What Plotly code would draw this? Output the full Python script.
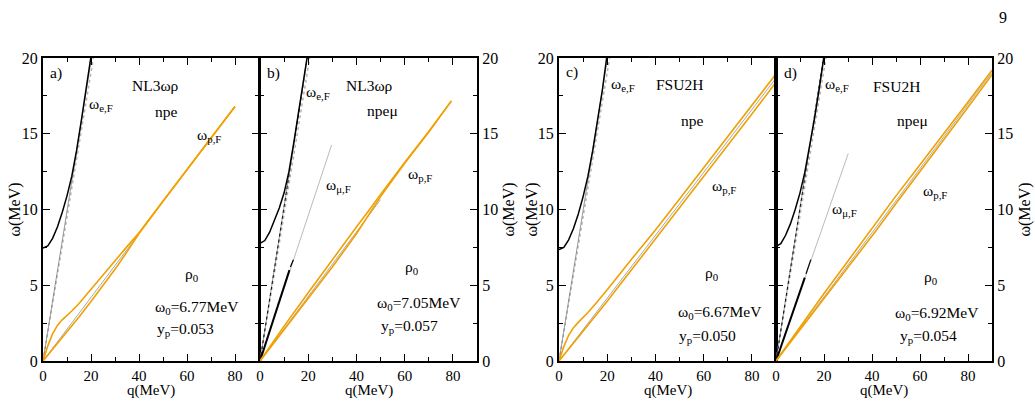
import plotly.graph_objects as go

# ---------------- data ----------------
# panel a) NL3wr npe
qa_e = [0, 2, 4, 6, 8, 10, 12, 14, 16, 18, 19.9]
wa_e = [7.46, 7.6, 8.1, 8.85, 9.8, 10.9, 12.2, 13.9, 15.9, 17.95, 20.0]
qa_eF1 = [0, 20.2]; wa_eF1 = [0, 20]
qa_eF2 = [0, 21.0]; wa_eF2 = [0, 20]
qa_pF = [0, 40]; wa_pF = [0, 8.4]
qa_up = [0, 2, 4, 6, 8, 10, 12, 15, 20, 25, 30, 35, 40, 50, 60, 70, 80]
wa_up = [0, 1.0, 1.8, 2.35, 2.72, 3.0, 3.3, 3.8, 4.75, 5.7, 6.62, 7.55, 8.47, 10.55, 12.65, 14.72, 16.8]
qa_lo = [0, 5, 10, 15, 20, 25, 30, 35, 40, 50, 60, 70, 80]
wa_lo = [0, 0.95, 1.9, 2.9, 3.92, 4.97, 6.05, 7.2, 8.42, 10.55, 12.65, 14.72, 16.8]

# panel b) NL3wr npemu
qb_e = [0, 2, 4, 6, 8, 10, 12, 14, 16, 18, 19.5]
wb_e = [7.76, 7.95, 8.5, 9.25, 10.1, 11.1, 12.5, 14.4, 16.4, 18.45, 20.0]
qb_eF1 = [0, 19.6]; wb_eF1 = [0, 20]
qb_eF2 = [0, 20.6]; wb_eF2 = [0, 20]
qb_mF = [0, 29.7]; wb_mF = [0, 14.26]
qb_m1 = [0, 12.2]; wb_m1 = [0, 6.0]
qb_m2 = [12.6, 13.85]; wb_m2 = [6.2, 6.69]
qb_pF = [0, 50]; wb_pF = [0, 10.65]
qb_up = [0, 10, 20, 30, 40, 45, 50, 60, 70, 79.4]
wb_up = [0, 2.3, 4.5, 6.7, 8.85, 9.9, 11.0, 13.1, 15.15, 17.17]
qb_lo = [0, 10, 20, 30, 40, 45, 50, 60, 70, 79.4]
wb_lo = [0, 2.05, 4.1, 6.2, 8.4, 9.6, 10.85, 13.05, 15.12, 17.17]

# panel c) FSU2H npe
qc_e = [0, 2, 4, 6, 8, 10, 12, 14, 16, 18, 19.75]
wc_e = [7.35, 7.5, 8.0, 8.75, 9.7, 10.85, 12.2, 13.9, 15.9, 17.9, 20.0]
qc_eF1 = [0, 20.1]; wc_eF1 = [0, 20]
qc_eF2 = [0, 21.0]; wc_eF2 = [0, 20]
qc_pF = [0, 90]; wc_pF = [0, 18.67]
qc_up = [0, 2, 4, 6, 8, 10, 12, 15, 20, 30, 40, 50, 60, 70, 80, 90]
wc_up = [0, 0.95, 1.7, 2.2, 2.55, 2.85, 3.2, 3.75, 4.7, 6.7, 8.65, 10.7, 12.75, 14.8, 16.85, 18.94]
qc_lo = [0, 10, 20, 30, 40, 50, 60, 70, 80, 90]
wc_lo = [0, 1.95, 3.95, 6.0, 8.05, 10.1, 12.15, 14.2, 16.3, 18.4]

# panel d) FSU2H npemu
qd_e = [0, 2, 4, 6, 8, 10, 12, 14, 16, 18, 19.9]
wd_e = [7.57, 7.75, 8.3, 9.05, 10.0, 11.1, 12.45, 14.1, 15.95, 17.95, 20.0]
qd_eF1 = [0, 19.8]; wd_eF1 = [0, 20]
qd_eF2 = [0, 20.8]; wd_eF2 = [0, 20]
qd_mF = [0, 30.1]; wd_mF = [0, 13.7]
qd_m1 = [0, 12.0]; wd_m1 = [0, 5.5]
qd_m2 = [12.5, 14.5]; wd_m2 = [5.75, 6.69]
qd_pF = [0, 90]; wd_pF = [0, 19.05]
qd_up = [0, 10, 20, 30, 41.5, 50, 60, 70, 80, 90]
wd_up = [0, 2.25, 4.45, 6.6, 9.12, 10.9, 12.95, 15.0, 17.1, 19.2]
qd_lo = [0, 10, 20, 30, 41.5, 50, 60, 70, 80, 90]
wd_lo = [0, 2.05, 4.1, 6.2, 8.56, 10.4, 12.5, 14.6, 16.75, 18.9]

x_ticks = [0, 20, 40, 60, 80]
y_ticks = [0, 5, 10, 15, 20]

panel_tags = ["a)", "b)", "c)", "d)"]
models = ["NL3ωρ", "NL3ωρ", "FSU2H", "FSU2H"]
matters = ["npe", "npeμ", "npe", "npeμ"]
omega0 = ["6.77", "7.05", "6.67", "6.92"]
yp = ["0.053", "0.057", "0.050", "0.054"]

# ---------------- styles ----------------
FONT = "Liberation Serif, Times New Roman, serif"
BLACK = "black"
ORANGE = "#f0a000"
GRAY = "#a8a8a8"
LGRAY = "#b4b4b4"
DGRAY = "#707070"

fig = go.Figure()

def line(ax, q, w, color, width, dash="solid"):
    fig.add_trace(go.Scatter(x=q, y=w, mode="lines", xaxis="x" + ax, yaxis="y" + ax,
                             line=dict(color=color, width=width, dash=dash),
                             hoverinfo="skip", showlegend=False))

panels = [
    ("", qa_e, wa_e, qa_eF1, wa_eF1, qa_eF2, wa_eF2, None, qa_pF, wa_pF, qa_up, wa_up, qa_lo, wa_lo),
    ("2", qb_e, wb_e, qb_eF1, wb_eF1, qb_eF2, wb_eF2, (qb_mF, wb_mF, qb_m1, wb_m1, qb_m2, wb_m2), qb_pF, wb_pF, qb_up, wb_up, qb_lo, wb_lo),
    ("3", qc_e, wc_e, qc_eF1, wc_eF1, qc_eF2, wc_eF2, None, qc_pF, wc_pF, qc_up, wc_up, qc_lo, wc_lo),
    ("4", qd_e, wd_e, qd_eF1, wd_eF1, qd_eF2, wd_eF2, (qd_mF, wd_mF, qd_m1, wd_m1, qd_m2, wd_m2), qd_pF, wd_pF, qd_up, wd_up, qd_lo, wd_lo),
]

for (ax, qe, we, q1, w1, q2, w2, mu, qp, wp, qu, wu, ql, wl) in panels:
    line(ax, q2, w2, LGRAY, 1.5, "dot")
    line(ax, q1, w1, DGRAY, 0.7)
    if mu is not None:
        line(ax, q1, w1, BLACK, 0.9, "dot")
        qmF, wmF, qm1, wm1, qm2, wm2 = mu
        line(ax, qmF, wmF, GRAY, 0.8)
        line(ax, qm1, wm1, BLACK, 2.0)
        line(ax, qm2, wm2, BLACK, 1.2)
    line(ax, qe, we, BLACK, 1.5)
    line(ax, qp, wp, GRAY, 1.0)
    line(ax, ql, wl, ORANGE, 1.6)
    line(ax, qu, wu, ORANGE, 1.6)

W, H = 1035, 401
xdoms = [(43, 259), (260, 477), (559, 776), (776, 992)]
ytop, ybot = 58, 361
ydom = [1 - ybot / H, 1 - ytop / H]

layout = dict(width=W, height=H, margin=dict(l=0, r=0, t=0, b=0, pad=0), autosize=False,
              plot_bgcolor="white", paper_bgcolor="white", showlegend=False,
              font=dict(family=FONT, size=15, color="black"))

for i, (x0, x1) in enumerate(xdoms):
    sfx = "" if i == 0 else str(i + 1)
    layout["xaxis" + sfx] = dict(
        domain=[x0 / W, x1 / W], anchor="y" + sfx, range=[0, 90], automargin=False,
        tickmode="array", tickvals=x_ticks, ticktext=[str(v) for v in x_ticks],
        ticks="inside", ticklen=7, tickwidth=1.2, tickcolor="black",
        showline=True, linewidth=2, linecolor="black", mirror="ticks",
        showgrid=False, zeroline=False, tickfont=dict(family=FONT, size=15),
        minor=dict(tickvals=[10, 30, 50, 70], ticks="inside", ticklen=4, tickwidth=1, tickcolor="black"),
        fixedrange=True)
    layout["yaxis" + sfx] = dict(
        domain=ydom, anchor="x" + sfx, range=[0, 20], automargin=False,
        side="left" if i in (0, 2) else "right",
        tickmode="array", tickvals=y_ticks, ticktext=[str(v) for v in y_ticks],
        ticks="inside", ticklen=7, tickwidth=1.2, tickcolor="black",
        showline=True, linewidth=2, linecolor="black", mirror="ticks",
        showgrid=False, zeroline=False, tickfont=dict(family=FONT, size=16),
        minor=dict(tickvals=[2.5, 7.5, 12.5, 17.5], ticks="inside", ticklen=4, tickwidth=1, tickcolor="black"),
        fixedrange=True)

fig.update_layout(**layout)

ann = []
def txt(ax, x, y, s, anchor="left", size=15.5):
    ann.append(dict(xref="x" + ax, yref="y" + ax, x=x, y=y, text=s, showarrow=False,
                    xanchor=anchor, yanchor="middle", font=dict(family=FONT, size=size, color="black")))

pos = [
    dict(tag=(2.0, 19.0), model=(47, 18.2), matter=(51.5, 16.5), eF=(18.3, 16.9), muF=None,
         pF=(63.3, 14.9), rho=(62, 5.7), w0=(46, 3.5), yp=(46.5, 2.05)),
    dict(tag=(2.0, 19.0), model=(45.5, 18.2), matter=(51, 16.55), eF=(18.1, 17.7), muF=(26.4, 11.6),
         pF=(60.7, 12.3), rho=(63, 6.2), w0=(47.5, 3.8), yp=(49.5, 2.3)),
    dict(tag=(2.0, 19.1), model=(50, 18.25), matter=(55.4, 15.9), eF=(20.9, 18.25), muF=None,
         pF=(62.6, 11.5), rho=(63.5, 5.8), w0=(48.5, 3.2), yp=(49, 1.6)),
    dict(tag=(2.5, 19.0), model=(50.3, 18.1), matter=(57, 15.9), eF=(19.6, 18.25), muF=(22.7, 10.0),
         pF=(60.5, 11.2), rho=(64.6, 5.5), w0=(48.7, 3.15), yp=(50.8, 1.6)),
]
for i, p in enumerate(pos):
    ax = "" if i == 0 else str(i + 1)
    txt(ax, *p["tag"], panel_tags[i])
    txt(ax, *p["model"], models[i], "center")
    txt(ax, *p["matter"], matters[i], "center")
    txt(ax, *p["eF"], "ω<sub>e,F</sub>")
    if p["muF"]:
        txt(ax, *p["muF"], "ω<sub>μ,F</sub>")
    txt(ax, *p["pF"], "ω<sub>p,F</sub>")
    txt(ax, *p["rho"], "ρ<sub>0</sub>", "center")
    txt(ax, *p["w0"], "ω<sub>0</sub>=" + omega0[i] + "MeV")
    txt(ax, *p["yp"], "y<sub>p</sub>=" + yp[i])

for (x0, x1) in xdoms:
    ann.append(dict(xref="paper", yref="paper", x=(x0 + x1) / 2 / W, y=1 - 390.5 / H, text="q(MeV)",
                    showarrow=False, xanchor="center", yanchor="middle",
                    font=dict(family=FONT, size=15, color="black")))
for xp in (14, 508, 531, 1024):
    ann.append(dict(xref="paper", yref="paper", x=xp / W, y=1 - 209.5 / H, text="ω(MeV)",
                    showarrow=False, xanchor="center", yanchor="middle", textangle=-90,
                    font=dict(family=FONT, size=16, color="black")))
ann.append(dict(xref="paper", yref="paper", x=1003 / W, y=1 - 17 / H, text="9", showarrow=False,
                xanchor="center", yanchor="middle", font=dict(family=FONT, size=16, color="black")))

fig.update_layout(annotations=ann)
fig.write_html("out.html")
